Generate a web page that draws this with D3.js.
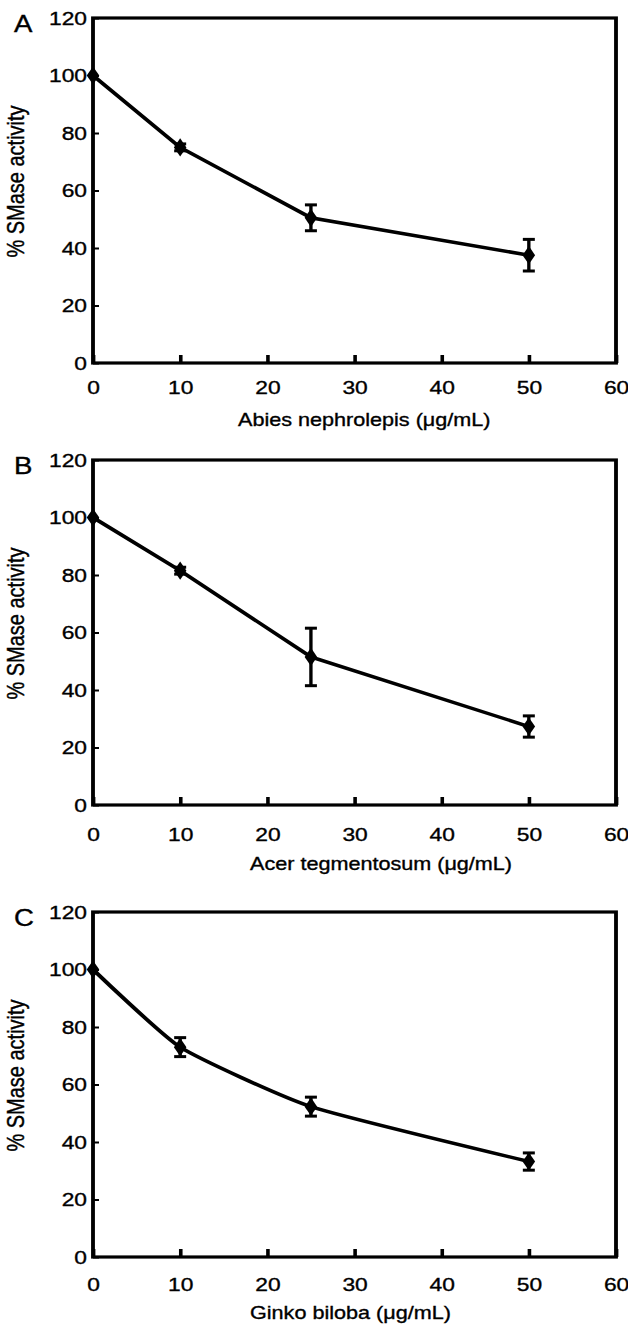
<!DOCTYPE html>
<html>
<head>
<meta charset="utf-8">
<script src="https://cdn.jsdelivr.net/npm/d3@7"></script>
<style>
body { margin: 0; background: #fff; }
</style>
</head>
<body>
<div id="chart"></div>
<script>
// values
var conc = [0, 10, 25, 50];
var abiesMean = [100, 75, 50.5, 37.5];
var abiesErr = [0, 1.2, 4.5, 5.5];
var acerMean = [100, 81.5, 51.5, 27.3];
var acerErr = [0, 1.2, 10, 3.7];
var ginkoMean = [100, 73, 52.3, 33.2];
var ginkoErr = [0, 3.3, 3.3, 3];

var xTicks = [0, 10, 20, 30, 40, 50, 60];
var yTicks = [0, 20, 40, 60, 80, 100, 120];
var panelLetters = ["A", "B", "C"];
var xTitles = ["Abies nephrolepis (\u03bcg/mL)", "Acer tegmentosum (\u03bcg/mL)", "Ginko biloba (\u03bcg/mL)"];
var yTitle = "% SMase activity";

var means = [abiesMean, acerMean, ginkoMean];
var errs = [abiesErr, acerErr, ginkoErr];
var smooth = [false, false, true];

// layout (the scanned figure is stretched 1.2x horizontally)
var W = 628, H = 1335, sx = 1.2;
var panelTop = [18, 460, 912],
    panelH = 345,
    tickPad = [18, 23, 21],
    titleY = [63, 65, 62],
    titleX = [238, 250, 250];
var left = 93 / sx, right = 616 / sx;
var font = "'Liberation Sans', Arial, sans-serif";

var svg = d3.select("#chart").append("svg")
    .attr("width", W)
    .attr("height", H);

var root = svg.append("g")
    .attr("transform", "scale(" + sx + ",1)");

var x = d3.scaleLinear().domain([0, 60]).range([left, right]);

// give text a little of the scanned ink weight
function ink(sel, size) {
  sel.attr("fill", "#000")
      .attr("stroke", "#000")
      .attr("stroke-width", 0.35)
      .style("font-family", font)
      .style("font-size", size + "px");
}

panelLetters.forEach(function(letter, p) {
  var top = panelTop[p], bottom = top + panelH;
  var y = d3.scaleLinear().domain([0, 120]).range([bottom, top]);
  var g = root.append("g");

  // x axis, ticks pointing inward
  var xa = g.append("g")
      .attr("transform", "translate(0," + bottom + ")")
      .call(d3.axisBottom(x).tickValues(xTicks).tickSizeInner(-8).tickSizeOuter(0).tickPadding(tickPad[p]));
  xa.select(".domain").remove();
  xa.selectAll("line").attr("stroke", "#000").attr("stroke-width", 3);
  ink(xa.selectAll("text"), 19);

  // y axis
  var ya = g.append("g")
      .attr("transform", "translate(" + left + ",0)")
      .call(d3.axisLeft(y).tickValues(yTicks).tickSizeInner(-5).tickSizeOuter(0).tickPadding(5));
  ya.select(".domain").remove();
  ya.selectAll("line").attr("stroke", "#000").attr("stroke-width", 2);
  ink(ya.selectAll("text"), 19);

  // frame
  g.append("rect")
      .attr("x", left)
      .attr("y", top)
      .attr("width", right - left)
      .attr("height", panelH)
      .attr("fill", "none")
      .attr("stroke", "#000")
      .attr("stroke-width", 3.2);

  // panel letter
  g.append("text")
      .attr("x", 14 / sx)
      .attr("y", top + 14)
      .call(ink, 23)
      .text(letter);

  // axis titles
  g.append("text")
      .attr("x", titleX[p] / sx)
      .attr("y", bottom + titleY[p])
      .call(ink, 18)
      .text(xTitles[p]);

  g.append("text")
      .attr("transform", "translate(" + (24 / sx) + "," + ((top + bottom) / 2 - 9) + ") rotate(-90)")
      .attr("text-anchor", "middle")
      .call(ink, 20)
      .text(yTitle);

  var pts = conc.map(function(c, i) { return {x: c, y: means[p][i], e: errs[p][i]}; });

  var line = d3.line()
      .x(function(d) { return x(d.x); })
      .y(function(d) { return y(d.y); });
  if (smooth[p]) line.curve(d3.curveCardinal.tension(0.5));

  g.append("path")
      .datum(pts)
      .attr("d", line)
      .attr("fill", "none")
      .attr("stroke", "#000")
      .attr("stroke-width", 3.5);

  // error bars
  var eb = g.selectAll(".err")
      .data(pts.filter(function(d) { return d.e > 0; }))
      .enter().append("g");
  eb.append("line")
      .attr("x1", function(d) { return x(d.x); })
      .attr("x2", function(d) { return x(d.x); })
      .attr("y1", function(d) { return y(d.y + d.e); })
      .attr("y2", function(d) { return y(d.y - d.e); })
      .attr("stroke", "#000").attr("stroke-width", 2.8);
  [1, -1].forEach(function(s) {
    eb.append("line")
        .attr("x1", function(d) { return x(d.x) - 5; })
        .attr("x2", function(d) { return x(d.x) + 5; })
        .attr("y1", function(d) { return y(d.y + s * d.e); })
        .attr("y2", function(d) { return y(d.y + s * d.e); })
        .attr("stroke", "#000").attr("stroke-width", 3);
  });

  // diamond markers
  g.selectAll(".pt")
      .data(pts)
      .enter().append("path")
      .attr("transform", function(d) { return "translate(" + x(d.x) + "," + y(d.y) + ")"; })
      .attr("d", d3.symbol().type(d3.symbolDiamond).size(95))
      .attr("fill", "#000");
});
</script>
</body>
</html>
